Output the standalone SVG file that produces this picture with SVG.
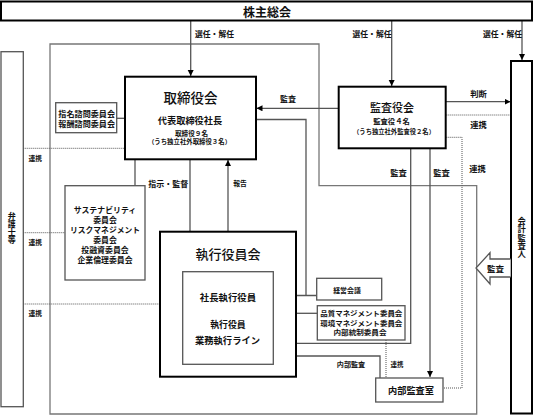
<svg xmlns="http://www.w3.org/2000/svg" width="534" height="416" viewBox="0 0 534 416">
<style>
text{font-family:"Noto Sans CJK JP","Noto Sans",sans-serif;fill:#111;text-anchor:middle;dominant-baseline:central}
.b{font-weight:700}
.v{writing-mode:vertical-rl;text-orientation:upright}
.thick{fill:#fff;stroke:#000;stroke-width:2}
.box{fill:#fff;stroke:#555;stroke-width:1.3}
.ln{fill:none;stroke:#555;stroke-width:1.3}
.ar{fill:none;stroke:#555;stroke-width:1.3;marker-end:url(#ah)}
.dot{fill:none;stroke:#555;stroke-width:1;stroke-dasharray:1 1}
.frame{fill:none;stroke:#777;stroke-width:1.3}
</style>
<defs>
<marker id="ah" markerUnits="userSpaceOnUse" markerWidth="7" markerHeight="7" refX="6" refY="3" orient="auto">
<path d="M0,0 L6,3 L0,6 Z" fill="#000"/>
</marker>
</defs>
<rect width="534" height="416" fill="#fff"/>

<path id="frame" class="frame" d="M50,44 H319 V185.7 H476.7 V414 H50 Z"/>

<g id="connectors">
<path class="ar" d="M190.7,21 V76"/>
<path class="ar" d="M391.7,21 V86"/>
<path class="ar" d="M522,21 V60"/>
<path class="ar" d="M338.7,108.3 H256.5"/>
<path class="ar" d="M445.7,101.7 H510.5"/>
<path class="ar" d="M190,160 V271"/>
<path class="ar" d="M228,231 V160"/>
<path class="ar" d="M410.7,148.3 V343.3 H274"/>
<path class="ar" d="M430,148.3 V377"/>
<path class="ar" d="M380,378 V356 H274"/>
<path class="ln" d="M116.7,118.3 H125"/>
<path class="ln" d="M135,160 V185.7"/>
<path class="ln" d="M223,119.5 H306 V295.5"/>
<path class="ln" d="M263,295.5 H316.7"/>
<path class="ln" d="M296,313.3 H317.3"/>
<path class="dot" d="M23.3,148.3 H125"/>
<path class="dot" d="M23.3,232.7 H65"/>
<path class="dot" d="M23.3,304 H160"/>
<path class="dot" d="M445.7,115 H511"/>
<path class="dot" d="M445.7,137.3 H462 V388 H443"/>
<path class="dot" d="M386,340 V378"/>
<text x="214.5" y="33" style="font-size:7.8px" class="b">選任・解任</text>
<text x="372" y="33" style="font-size:7.8px" class="b">選任・解任</text>
<text x="502.5" y="33" style="font-size:7.8px" class="b">選任・解任</text>
<text x="288" y="98" style="font-size:8px" class="b">監査</text>
<text x="478.5" y="93" style="font-size:8.3px" class="b">判断</text>
<text x="478.5" y="124" style="font-size:8.3px" class="b">連携</text>
<text x="477.5" y="168" style="font-size:8.3px" class="b">連携</text>
<text x="398.5" y="171.7" style="font-size:8.3px" class="b">監査</text>
<text x="441.5" y="171.7" style="font-size:8.3px" class="b">監査</text>
<text x="35.3" y="158.3" style="font-size:6.8px" class="b">連携</text>
<text x="35.3" y="241.7" style="font-size:6.8px" class="b">連携</text>
<text x="35.3" y="313.3" style="font-size:6.8px" class="b">連携</text>
<text x="168.3" y="183.3" style="font-size:8px" class="b">指示・監督</text>
<text x="240" y="183.3" style="font-size:6.8px" class="b">報告</text>
<text x="351" y="364.3" style="font-size:7.1px" class="b">内部監査</text>
<text x="397" y="364.3" style="font-size:6.5px" class="b">連携</text>
</g>

<g id="kabunushi">
<rect class="thick" x="1" y="1.5" width="531" height="19"/>
<text x="267" y="11" style="font-size:12px" class="b">株主総会</text>
</g>

<g id="bengoshi">
<rect class="box" x="1" y="51.7" width="22.3" height="355"/>
<text x="11.7" y="228.3" style="font-size:8px" class="b v">弁護士等</text>
</g>

<g id="kaikei">
<rect class="thick" x="511" y="61" width="21" height="352.5"/>
<text x="521.7" y="237.5" style="font-size:8.3px" class="b v">会計監査人</text>
</g>

<g id="kansa-arrow">
<path d="M510.7,259 H490 V252.7 L476,268 L490,284 V277 H510.7" fill="#fff" stroke="#555" stroke-width="1.3"/>
<text x="495.5" y="268" style="font-size:8.5px" class="b">監査</text>
</g>

<g id="torishimariyakukai">
<rect class="thick" x="125" y="76.7" width="131" height="82.6"/>
<text x="190.5" y="97" style="font-size:13.5px;font-weight:500">取締役会</text>
<text x="190" y="120" style="font-size:9.2px" class="b">代表取締役社長</text>
<text x="191.5" y="132.7" style="font-size:6.6px" class="b">取締役９名</text>
<text x="189.5" y="141.7" style="font-size:6.4px" class="b">（うち独立社外取締役３名）</text>
</g>

<g id="kansayakukai">
<rect class="thick" x="338.7" y="86.7" width="107" height="61.6"/>
<text x="392" y="106.7" style="font-size:11px;font-weight:500">監査役会</text>
<text x="391.5" y="121" style="font-size:7.3px" class="b">監査役４名</text>
<text x="394" y="131" style="font-size:6.3px" class="b">（うち独立社外監査役２名）</text>
</g>

<g id="shimei">
<rect class="box" x="55.7" y="102.7" width="61" height="30"/>
<text x="86.7" y="113.3" style="font-size:8.1px" class="b">指名諮問委員会</text>
<text x="86.7" y="123.3" style="font-size:8.1px" class="b">報酬諮問委員会</text>
</g>

<g id="sustainability">
<rect class="box" x="65" y="185.7" width="80" height="94.3"/>
<text x="105" y="209.5" style="font-size:7.9px" class="b">サステナビリティ</text>
<text x="105" y="219.5" style="font-size:7.9px" class="b">委員会</text>
<text x="105" y="229.5" style="font-size:7.8px" class="b">リスクマネジメント</text>
<text x="105" y="239.5" style="font-size:7.9px" class="b">委員会</text>
<text x="105" y="249.5" style="font-size:7.9px" class="b">投融資委員会</text>
<text x="105" y="259.5" style="font-size:7.9px" class="b">企業倫理委員会</text>
</g>

<g id="shikkoyakuinkai">
<rect class="thick" x="160" y="231.7" width="136" height="145"/>
<text x="228" y="253.3" style="font-size:13px;font-weight:500">執行役員会</text>
</g>

<g id="shikko-inner">
<rect class="box" x="182.7" y="271.7" width="90.6" height="92.6"/>
<text x="228" y="296.5" style="font-size:9.4px" class="b">社長執行役員</text>
<text x="228" y="324.3" style="font-size:8.9px" class="b">執行役員</text>
<text x="227.5" y="340" style="font-size:9.3px" class="b">業務執行ライン</text>
</g>

<g id="keiei">
<rect class="box" x="316.7" y="278.3" width="65" height="21.7"/>
<text x="347" y="289.5" style="font-size:6.9px" class="b">経営会議</text>
</g>

<g id="hinshitsu">
<rect class="box" x="317.3" y="305.7" width="87.7" height="34.3"/>
<text x="361.3" y="313" style="font-size:7px" class="b" textLength="82" lengthAdjust="spacingAndGlyphs">品質マネジメント委員会</text>
<text x="361.3" y="322.7" style="font-size:7px" class="b" textLength="82" lengthAdjust="spacingAndGlyphs">環境マネジメント委員会</text>
<text x="360" y="332.4" style="font-size:7px" class="b" textLength="53" lengthAdjust="spacingAndGlyphs">内部統制委員会</text>
</g>

<g id="naibukansashitsu">
<rect class="box" x="375.7" y="378" width="67.3" height="24"/>
<text x="411" y="390" style="font-size:9.2px" class="b">内部監査室</text>
</g>
</svg>
